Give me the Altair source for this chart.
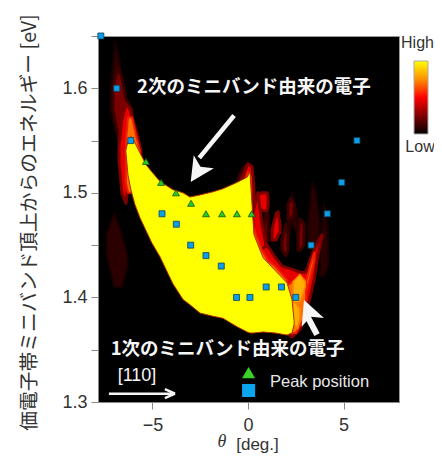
import altair as alt
import pandas as pd

squares_theta = [-7.7, -6.87, -6.13, -4.5, -3.75, -3.0, -2.2, -1.4, -0.6, 0.1, 0.95, 1.75, 2.5, 3.3, 4.15, 4.9, 5.7]
squares_energy = [1.65, 1.6, 1.55, 1.48, 1.47, 1.45, 1.44, 1.43, 1.40, 1.40, 1.41, 1.41, 1.40, 1.45, 1.48, 1.51, 1.55]
tri_theta = [-5.34, -4.55, -3.77, -2.98, -2.2, -1.36, -0.58, 0.19]
tri_energy = [1.53, 1.51, 1.50, 1.49, 1.48, 1.48, 1.48, 1.48]

# intensity zones: (theta, lower energy, upper energy)
yellow_band = [(-6.39, 1.539, 1.541), (-6.28, 1.517, 1.549), (-6.13, 1.503, 1.554), (-5.92, 1.489, 1.548),
               (-5.65, 1.476, 1.538), (-5.34, 1.464, 1.527), (-5.03, 1.452, 1.520), (-4.61, 1.439, 1.511),
               (-3.93, 1.413, 1.503), (-3.40, 1.398, 1.500), (-3.04, 1.393, 1.496), (-2.51, 1.385, 1.498),
               (-1.83, 1.382, 1.501), (-1.31, 1.380, 1.504), (-0.58, 1.372, 1.510), (-0.05, 1.367, 1.515),
               (0.10, 1.366, 1.520), (0.21, 1.366, 1.489), (0.31, 1.366, 1.460), (0.79, 1.367, 1.438),
               (1.41, 1.366, 1.426), (2.04, 1.364, 1.414), (2.30, 1.366, 1.398), (2.41, 1.374, 1.378)]

faint_zones = {
    "a": [(-7.4, 1.44, 1.46), (-7.0, 1.41, 1.48), (-6.6, 1.41, 1.46), (-6.3, 1.43, 1.44)],
    "b": [(-7.2, 1.58, 1.60), (-6.95, 1.56, 1.645), (-6.7, 1.55, 1.625), (-6.5, 1.55, 1.58)],
    "c": [(3.14, 1.45, 1.47), (3.35, 1.44, 1.51), (3.56, 1.44, 1.50), (3.75, 1.45, 1.47)],
    "d": [(3.77, 1.42, 1.45), (3.98, 1.42, 1.49), (4.19, 1.43, 1.46)],
    "e": [(2.0, 1.445, 1.47), (2.3, 1.47, 1.50), (2.6, 1.46, 1.48)],
}
dark_zones = {
    "a": [(-7.07, 1.58, 1.60), (-6.81, 1.555, 1.62), (-6.6, 1.535, 1.61), (-6.39, 1.53, 1.59), (-6.07, 1.53, 1.58)],
    "b": [(0.84, 1.46, 1.47), (0.94, 1.45, 1.48), (1.05, 1.455, 1.48)],
    "c": [(2.09, 1.475, 1.489), (2.25, 1.475, 1.495), (2.41, 1.48, 1.49)],
    "d": [(1.78, 1.445, 1.455), (1.99, 1.44, 1.47), (2.09, 1.445, 1.46)],
    "e": [(2.62, 1.445, 1.46), (2.72, 1.445, 1.475), (2.93, 1.45, 1.47)],
    "f": [(-0.5, 1.51, 1.515), (-0.2, 1.51, 1.525), (0.05, 1.51, 1.527)],
}
red_zones = {
    "a": [(-6.75, 1.53, 1.545), (-6.6, 1.50, 1.57), (-6.39, 1.49, 1.585), (-6.18, 1.52, 1.58), (-5.86, 1.53, 1.56), (-5.6, 1.53, 1.54)],
    "b": [(-0.42, 1.50, 1.505), (-0.16, 1.50, 1.521), (0.0, 1.50, 1.528), (0.21, 1.49, 1.525), (0.31, 1.48, 1.505)],
    "c": [(0.42, 1.489, 1.497), (0.73, 1.483, 1.50), (1.0, 1.483, 1.50), (1.05, 1.488, 1.495)],
    "d": [(0.25, 1.43, 1.48), (0.52, 1.43, 1.50), (0.73, 1.43, 1.47), (0.94, 1.43, 1.45)],
    "e": [(1.26, 1.455, 1.465), (1.47, 1.455, 1.48), (1.57, 1.46, 1.482), (1.68, 1.462, 1.47)],
    "g": [(0.6, 1.40, 1.445), (1.0, 1.39, 1.45), (1.36, 1.37, 1.44), (1.78, 1.37, 1.43), (2.3, 1.362, 1.427),
          (2.72, 1.369, 1.424), (3.04, 1.387, 1.424), (3.25, 1.40, 1.436), (3.46, 1.417, 1.445),
          (3.66, 1.441, 1.453), (3.87, 1.458, 1.46)],
}
orange_zones = {
    "a": [(-6.39, 1.51, 1.55), (-6.28, 1.50, 1.572), (-6.07, 1.50, 1.572), (-5.86, 1.50, 1.555), (-5.65, 1.50, 1.54)],
    "b": [(-0.16, 1.50, 1.51), (0.0, 1.50, 1.52), (0.15, 1.50, 1.515)],
    "c": [(0.1, 1.43, 1.475), (0.42, 1.43, 1.46), (0.73, 1.42, 1.445), (1.05, 1.41, 1.435), (1.41, 1.40, 1.43),
          (2.04, 1.40, 1.417)],
    "d": [(1.68, 1.37, 1.405), (2.09, 1.366, 1.412), (2.51, 1.366, 1.417), (2.93, 1.38, 1.418), (3.04, 1.40, 1.415)],
    "e": [(3.04, 1.405, 1.415), (3.25, 1.42, 1.43), (3.46, 1.435, 1.443)],
}
amber_zones = {
    "a": [(2.35, 1.375, 1.40), (2.6, 1.37, 1.392), (2.72, 1.38, 1.39)],
    "b": [(2.35, 1.395, 1.415), (2.72, 1.395, 1.422), (3.0, 1.41, 1.415)],
}

text_2nd = "2次のミニバンド由来の電子"
text_1st = "1次のミニバンド由来の電子"
ytitle = "価電子帯ミニバンド頂上からのエネルギー [eV]"

x_scale = alt.Scale(domain=[-7.85, 7.9], nice=False, zero=False)
y_scale = alt.Scale(domain=[1.3, 1.65], nice=False, zero=False)

x_axis = alt.Axis(values=[-5, 0, 5], title="[deg.]", titleX=159, titleY=42, titleFontSize=17,
                  titleFont="Liberation Sans", titleFontWeight="normal", titleColor="#333333",
                  titleBaseline="middle", labelPadding=7, format="d")
y_axis = alt.Axis(values=[1.3, 1.35, 1.4, 1.45, 1.5, 1.55, 1.6, 1.65],
                  labelExpr="(round(datum.value*100) % 10 == 0) ? format(datum.value, '.1f') : ''",
                  title=ytitle, titleX=-69, titleY=186, titleFontSize=19.8, titleBaseline="middle",
                  titleFont="Noto Sans CJK JP", titleFontWeight="normal", titleColor="#333333",
                  labelPadding=4)


def zones(d):
    return pd.DataFrame([{"z": k, "t": t, "lo": lo, "hi": hi} for k, v in d.items() for t, lo, hi in v])


def X(field):
    return alt.X(field, scale=x_scale, axis=x_axis)


def Y(field):
    return alt.Y(field, scale=y_scale, axis=y_axis)


def zone_layer(d, fill, edge, edge_w):
    return alt.Chart(zones(d)).mark_area(color=fill, stroke=edge, strokeWidth=edge_w, strokeJoin="round", clip=True).encode(
        x=X("t:Q"), y=Y("lo:Q"), y2="hi:Q", detail="z:N",
    )


def note(text, t, e, size, weight="normal", font="Noto Sans CJK JP", align="center", color="#f6f6f6"):
    return alt.Chart(pd.DataFrame({"t": [t], "e": [e], "s": [text]})).mark_text(
        font=font, fontSize=size, fontWeight=weight, align=align, baseline="middle", color=color
    ).encode(x=X("t:Q"), y=Y("e:Q"), text="s:N")


def shaft(t1, e1, t2, e2, w):
    return alt.Chart(pd.DataFrame({"a": [t1], "b": [t2], "c": [e1], "d": [e2]})).mark_rule(
        color="#f6f6f6", strokeWidth=w
    ).encode(x=X("a:Q"), x2="b:Q", y=Y("c:Q"), y2="d:Q")


HEAD = "M0,0 L1,2 L0,1.5 L-1,2 Z"


def head(t, e, angle, size):
    return alt.Chart(pd.DataFrame({"t": [t], "e": [e]})).mark_point(
        shape=HEAD, filled=True, color="#f6f6f6", opacity=1, size=size, angle=angle
    ).encode(x=X("t:Q"), y=Y("e:Q"))


def markers(ts, es, shape, fill, size, stroke=None):
    kw = {"stroke": stroke, "strokeWidth": 0.8} if stroke else {"strokeWidth": 0}
    return alt.Chart(pd.DataFrame({"t": ts, "e": es})).mark_point(
        shape=shape, filled=True, fill=fill, opacity=1, size=size, **kw
    ).encode(x=X("t:Q"), y=Y("e:Q"))


colorbar = alt.Chart(pd.DataFrame({"k": [0]})).mark_rect(
    color=alt.Gradient(gradient="linear", x1=0, x2=0, y1=1, y2=0, stops=[
        alt.GradientStop(color="#000000", offset=0),
        alt.GradientStop(color="#ff0000", offset=0.5),
        alt.GradientStop(color="#ff9000", offset=0.75),
        alt.GradientStop(color="#ffff00", offset=1),
    ]),
    stroke="#aaaaaa", strokeWidth=1,
).encode(x=alt.value(316), x2=alt.value(330), y=alt.value(25), y2=alt.value(98))


def side(text, x, y, font="Liberation Sans", size=16, style="normal"):
    return alt.Chart(pd.DataFrame({"s": [text]})).mark_text(
        font=font, fontSize=size, fontStyle=style, color="#333333", align="center", baseline="middle"
    ).encode(x=alt.value(x), y=alt.value(y), text="s:N")


chart = alt.layer(
    zone_layer(faint_zones, "#2a0000", "#180000", 2),
    zone_layer(dark_zones, "#7a0000", "#3a0000", 3),
    zone_layer(red_zones, "#e80000", "#800000", 3),
    zone_layer(orange_zones, "#ff7000", "#f02000", 2),
    zone_layer(amber_zones, "#ffb000", "#ff8000", 1.5),
    zone_layer({"y": yellow_band}, "#ffff00", "#b03000", 1),
    markers(squares_theta, squares_energy, "square", "#0a9fe8", 36, "#10405a"),
    markers(tri_theta, tri_energy, "triangle-up", "#2ac82a", 48, "#105a10"),
    note(text_2nd, 0.31, 1.601, 18.5, "bold"),
    note(text_1st, -1.07, 1.351, 18.5, "bold"),
    note("[110]", -5.81, 1.325, 18, font="Liberation Sans"),
    note("Peak position", 1.15, 1.319, 16.5, font="Liberation Sans", align="left", color="#e8e8e8"),
    shaft(-0.73, 1.574, -2.55, 1.5335, 4.5),
    head(-3.0, 1.5105, 213, 576),
    shaft(3.61, 1.3645, 3.1, 1.382, 6),
    head(2.93, 1.3975, 338.5, 576),
    shaft(-7.28, 1.308, -3.85, 1.308, 2.5),
    shaft(-4.35, 1.3124, -3.82, 1.308, 2.5),
    shaft(-4.35, 1.3036, -3.82, 1.308, 2.5),
    markers([0.03], [1.328], "triangle-up", "#3ad02a", 170),
    markers([0.03], [1.311], "square", "#0aa5f0", 170),
    colorbar,
    side("High", 319.5, 7),
    side("Low", 322, 111),
    side("θ", 124, 406, font="Liberation Serif", size=18, style="italic"),
).properties(
    width=301,
    height=366,
    background="#ffffff",
    padding={"left": 90, "top": 28, "right": 35, "bottom": 51},
    autosize=alt.AutoSizeParams(type="none"),
).configure_view(
    fill="#000000", stroke="#999999", strokeWidth=1
).configure_axis(
    grid=False, domainColor="#888888", tickColor="#888888", tickSize=7,
    labelFont="Liberation Sans", labelFontSize=18, labelColor="#333333",
)

chart.save("out.html", embed_options={"renderer": "svg", "actions": False})
